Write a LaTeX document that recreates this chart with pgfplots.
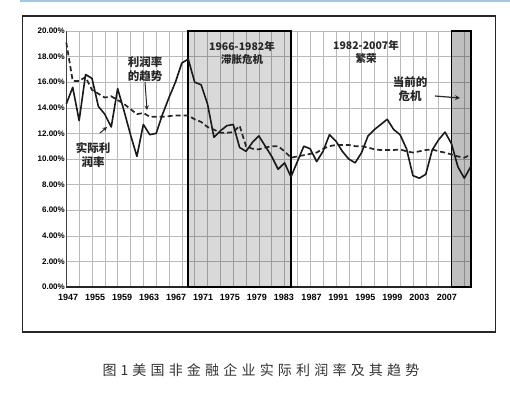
\documentclass[border=0pt]{standalone}
\usepackage{pgfplots}
\pgfplotsset{compat=1.18}
\usepackage{pgfplotstable}
\usepackage{fontspec}
\setmainfont{Liberation Sans}
\newfontfamily\cjk{Noto Sans CJK SC}
\newfontfamily\cjkcap[LetterSpace=30]{Noto Sans CJK SC}
\definecolor{topblue}{RGB}{160,200,230}
\definecolor{gridc}{RGB}{185,185,185}

\pgfplotstableread{
year actual
1947 14.3
1948 15.6
1949 13.0
1950 16.6
1951 16.3
1952 14.1
1953 13.5
1954 12.5
1955 15.5
1956 13.75
1957 11.9
1958 10.2
1959 12.7
1960 11.9
1961 12.0
1962 13.5
1963 14.8
1964 16.0
1965 17.5
1966 17.8
1967 16.0
1968 15.8
1969 14.3
1970 11.7
1971 12.2
1972 12.6
1973 12.7
1974 10.9
1975 10.6
1976 11.3
1977 11.8
1978 11.0
1979 10.2
1980 9.2
1981 9.7
1982 8.6
1983 9.8
1984 11.0
1985 10.8
1986 9.8
1987 10.6
1988 11.9
1989 11.4
1990 10.6
1991 10.0
1992 9.7
1993 10.5
1994 11.8
1995 12.3
1996 12.7
1997 13.1
1998 12.3
1999 11.9
2000 10.8
2001 8.7
2002 8.5
2003 8.8
2004 10.7
2005 11.5
2006 12.1
2007 11.2
2008 9.4
2009 8.5
2010 9.4
}\actualtab

\pgfplotstableread{
year trend
1947 19.1
1948 16.1
1949 16.1
1950 16.4
1951 15.4
1952 15.1
1953 14.8
1954 14.9
1955 14.6
1956 14.3
1957 13.9
1958 13.5
1959 13.6
1960 13.3
1961 13.3
1962 13.3
1963 13.35
1964 13.4
1965 13.4
1966 13.4
1967 13.1
1968 12.9
1969 12.5
1970 12.3
1971 12.05
1972 12.05
1973 12.1
1974 12.6
1975 11.0
1976 10.8
1977 10.75
1978 10.9
1979 11.0
1980 11.0
1981 10.6
1982 10.1
1983 10.2
1984 10.3
1985 10.4
1986 10.5
1987 10.8
1988 11.0
1989 11.1
1990 11.1
1991 11.1
1992 11.0
1993 11.0
1994 10.9
1995 10.75
1996 10.7
1997 10.7
1998 10.7
1999 10.75
2000 10.6
2001 10.5
2002 10.6
2003 10.7
2004 10.75
2005 10.6
2006 10.5
2007 10.35
2008 10.2
2009 10.1
2010 10.35
}\trendtab

\begin{document}
\begin{tikzpicture}
\useasboundingbox (0pt,0pt) rectangle (510pt,393pt);
\draw[line width=2pt, topblue] (20pt,392pt) -- (510pt,392pt);
\draw[line width=1.1pt, black!85] (22.7pt,61pt) rectangle (495.7pt,377pt);

\begin{axis}[
  at={(66.3pt,106pt)}, anchor=south west,
  scale only axis, width=404.4pt, height=256pt,
  xmin=1947, xmax=2010, ymin=0, ymax=20,
  axis lines*=left,
  clip=false,
  x axis line style={line width=1.2pt, black!85},
  y axis line style={line width=0.8pt, black!75},
  xtick={1947.3,1951.5,1955.7,1959.9,1964.1,1968.3,1972.5,1976.7,1980.9,1985.2,1989.4,1993.6,1997.8,2002.0,2006.3},
  xticklabels={1947,1955,1959,1963,1967,1971,1975,1979,1983,1987,1991,1995,1999,2003,2007},
  minor xtick={1949,1951,...,2009},
  xminorgrids,
  ytick={0,2,...,20}, ymajorgrids,
  major tick length=0pt, minor tick length=0pt,
  grid style={gridc, line width=0.5pt},
  minor grid style={gridc, line width=0.5pt},
  /pgf/number format/assume math mode=true,
  yticklabel={\pgfmathprintnumber[fixed,fixed zerofill,precision=2]{\tick}\%},
  yticklabel style={font=\bfseries\fontsize{8}{9}\selectfont, xshift=2pt},
  xticklabel style={font=\bfseries\fontsize{9}{10}\selectfont, yshift=-4pt},
]
\addplot[draw=none, fill=black, fill opacity=0.15] coordinates {(1966,0) (1966,20) (1982,20) (1982,0)} \closedcycle;
\addplot[draw=none, fill=black, fill opacity=0.25] coordinates {(2007,0) (2007,20) (2010,20) (2010,0)} \closedcycle;
\addplot[black, line width=1.8pt] coordinates {(1966,0) (1966,20) (1982,20) (1982,0) (1966,0)};
\addplot[black, line width=1.8pt] coordinates {(2007,0) (2007,20) (2010,20) (2010,0) (2007,0)};
\addplot[black!85, line width=1.7pt, dash pattern=on 5pt off 3pt] table[x=year,y=trend] {\trendtab};
\addplot[black!90, line width=1.6pt, line join=round] table[x=year,y=actual] {\actualtab};
\end{axis}

\begin{scope}[every node/.style={font=\cjk\bfseries\fontsize{10.5}{13}\selectfont, align=center, inner sep=0pt, text=black!85}]
\node at (242pt,340pt) {1966-1982年\\滞胀危机};
\node at (366pt,341pt) {1982-2007年\\繁荣};
\node[font=\cjk\bfseries\fontsize{11.5}{14}\selectfont] at (410pt,304pt) {当前的\\危机};
\node[font=\cjk\bfseries\fontsize{11.5}{14}\selectfont] at (145pt,324pt) {利润率\\的趋势};
\node[font=\cjk\bfseries\fontsize{11.5}{14}\selectfont] at (93pt,238pt) {实际利\\润率};
\end{scope}
\draw[-stealth, line width=1.2pt, black!85] (435pt,297pt) -- (460pt,295pt);
\draw[-stealth, line width=1.0pt, black!85] (145pt,311pt) -- (147pt,283pt);
\draw[-stealth, line width=1.0pt, black!85] (100pt,260pt) -- (107pt,266pt);

\node[font=\cjkcap\fontsize{14}{16}\selectfont, text=black!80, inner sep=0pt] at (261pt,23pt) {图\hspace{4pt}1\hspace{4pt}美国非金融企业实际利润率及其趋势};
\end{tikzpicture}
\end{document}
